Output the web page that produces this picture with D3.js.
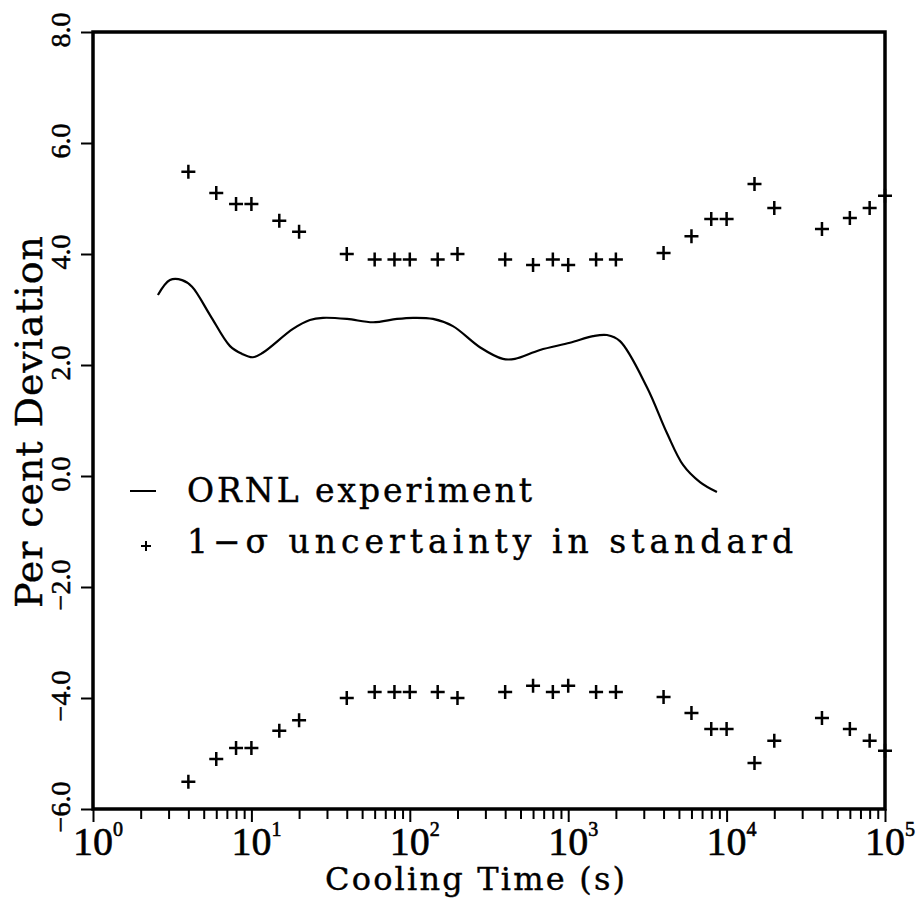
<!DOCTYPE html>
<html><head><meta charset="utf-8">
<script src="https://cdn.jsdelivr.net/npm/d3@7"></script>
<style>body{margin:0;background:#fff}svg{display:block}</style>
</head><body><svg id="c" width="920" height="900"></svg>
<script>
// ORNL experiment curve (cooling time in s, per cent deviation)
const curveTime=[2.57,3.06,3.65,4.22,5.48,7.33,8.73,10.2,11.8,18.3,23.4,28.3,40.2,58.6,83.0,105,140,187,277,387,461,664,1026,1435,1758,2123,3141,4207,5309,6792,8690];
const curveDev=[3.26,3.53,3.53,3.41,2.90,2.34,2.20,2.14,2.22,2.65,2.81,2.85,2.83,2.77,2.83,2.85,2.83,2.70,2.32,2.11,2.11,2.27,2.40,2.52,2.54,2.43,1.60,0.77,0.20,-0.11,-0.29];
// 1-sigma uncertainty in standard
const uncTime=[4,6,8,10,15,20,40,60,80,100,150,200,400,600,800,1000,1500,2000,4000,6000,8000,10000,15000,20000,40000,60000,80000,100000];
const uncUpper=[5.48,5.10,4.90,4.90,4.60,4.40,4.00,3.90,3.90,3.90,3.90,4.00,3.90,3.80,3.90,3.80,3.90,3.90,4.02,4.32,4.63,4.63,5.26,4.83,4.45,4.65,4.83,5.05];
const uncLower=[-5.51,-5.10,-4.90,-4.90,-4.59,-4.40,-4.00,-3.89,-3.89,-3.89,-3.89,-4.00,-3.89,-3.78,-3.89,-3.78,-3.89,-3.89,-3.98,-4.27,-4.56,-4.56,-5.17,-4.77,-4.36,-4.56,-4.77,-4.95];
const yTicks=[-6,-4,-2,0,2,4,6,8];
const xDecades=[0,1,2,3,4,5];
const legendLabels=["ORNL experiment","1\u2212\u03C3 uncertainty in standard"];
const xTitle="Cooling Time (s)";
const yTitle="Per cent Deviation";

const svg=d3.select("#c");
const L=93,R=885,T=32,B=809;
const x=d3.scaleLog().domain([1,1e5]).range([L,R]);
const y=d3.scaleLinear().domain([-6,8]).range([B,T]);
const numFont="'Liberation Serif', serif";
const txtFont="'DejaVu Serif', serif";

// minor x ticks
const minor=[];
for(let d=0;d<5;d++) for(let m=2;m<=9;m++) minor.push(m*Math.pow(10,d));
svg.append("g").attr("transform",`translate(0,${B})`)
  .call(d3.axisBottom(x).tickValues(minor).tickSize(10).tickFormat(""))
  .call(g=>{g.select(".domain").remove();g.selectAll("line").attr("stroke","#000").attr("stroke-width",2);});
svg.append("g").attr("transform",`translate(0,${B})`)
  .call(d3.axisBottom(x).tickValues(xDecades.map(e=>Math.pow(10,e))).tickSize(13).tickFormat(""))
  .call(g=>{g.select(".domain").remove();g.selectAll("line").attr("stroke","#000").attr("stroke-width",2);});
// decade labels
const xl=svg.append("g").attr("font-family",numFont).attr("fill","#000").attr("stroke","#000").attr("stroke-width",0.6);
xDecades.forEach(e=>{
  const px=x(Math.pow(10,e));
  xl.append("text").attr("x",px).attr("y",855).attr("text-anchor","middle").attr("font-size",40).text("10");
  xl.append("text").attr("x",px+20).attr("y",836).attr("font-size",20).text(String(e));
});
// y axis ticks
svg.append("g").attr("transform",`translate(${L},0)`)
  .call(d3.axisLeft(y).tickValues(yTicks).tickSize(12).tickFormat(""))
  .call(g=>{g.select(".domain").remove();g.selectAll("line").attr("stroke","#000").attr("stroke-width",2);});
const yl=svg.append("g").attr("font-family",numFont).attr("font-size",28).attr("fill","#000").attr("stroke","#000").attr("stroke-width",0.5);
yTicks.forEach(v=>{
  yl.append("text").attr("transform",`translate(70,${y(v)-2}) rotate(-90)`).attr("text-anchor","middle")
    .text((v<0?"\u2212":"")+Math.abs(v).toFixed(1));
});
// frame
svg.append("rect").attr("x",L).attr("y",T).attr("width",R-L).attr("height",B-T)
  .attr("fill","none").attr("stroke","#000").attr("stroke-width",3.5);

// curve
svg.append("path").datum(curveTime.map((t,i)=>[t,curveDev[i]]))
  .attr("fill","none").attr("stroke","#000").attr("stroke-width",2.2)
  .attr("d",d3.line().x(d=>x(d[0])).y(d=>y(d[1])).curve(d3.curveCatmullRom));

// plus markers
const plus="M-7,0H7M0,-7V7";
const pts=uncTime.map((t,i)=>[t,uncUpper[i]]).concat(uncTime.map((t,i)=>[t,uncLower[i]]));
svg.append("g").selectAll("path").data(pts).join("path")
  .attr("transform",d=>`translate(${x(d[0])},${y(d[1])})`)
  .attr("d",plus).attr("stroke","#000").attr("stroke-width",2.5).attr("fill","none");

// legend
svg.append("line").attr("x1",130).attr("x2",156).attr("y1",491).attr("y2",491).attr("stroke","#000").attr("stroke-width",2);
svg.append("path").attr("transform","translate(146,546)").attr("d","M-5,0H5M0,-5V5").attr("stroke","#000").attr("stroke-width",2);
const lg=svg.append("g").attr("font-family",txtFont).attr("font-size",33).attr("fill","#000").attr("stroke","#000").attr("stroke-width",0.4);
lg.append("text").attr("x",187).attr("y",502).attr("textLength",345).attr("lengthAdjust","spacing").text(legendLabels[0]);
lg.append("text").attr("x",187).attr("y",553).attr("textLength",606).attr("lengthAdjust","spacing").text(legendLabels[1]);

// titles
svg.append("text").attr("x",475).attr("y",890).attr("text-anchor","middle").attr("font-family",txtFont)
  .attr("stroke","#000").attr("stroke-width",0.4)
  .attr("font-size",32).attr("textLength",300).attr("lengthAdjust","spacing").text(xTitle);
svg.append("text").attr("transform","translate(42,422) rotate(-90)").attr("text-anchor","middle").attr("font-family",txtFont)
  .attr("stroke","#000").attr("stroke-width",0.4)
  .attr("font-size",38).attr("textLength",372).attr("lengthAdjust","spacing").text(yTitle);
</script></body></html>
